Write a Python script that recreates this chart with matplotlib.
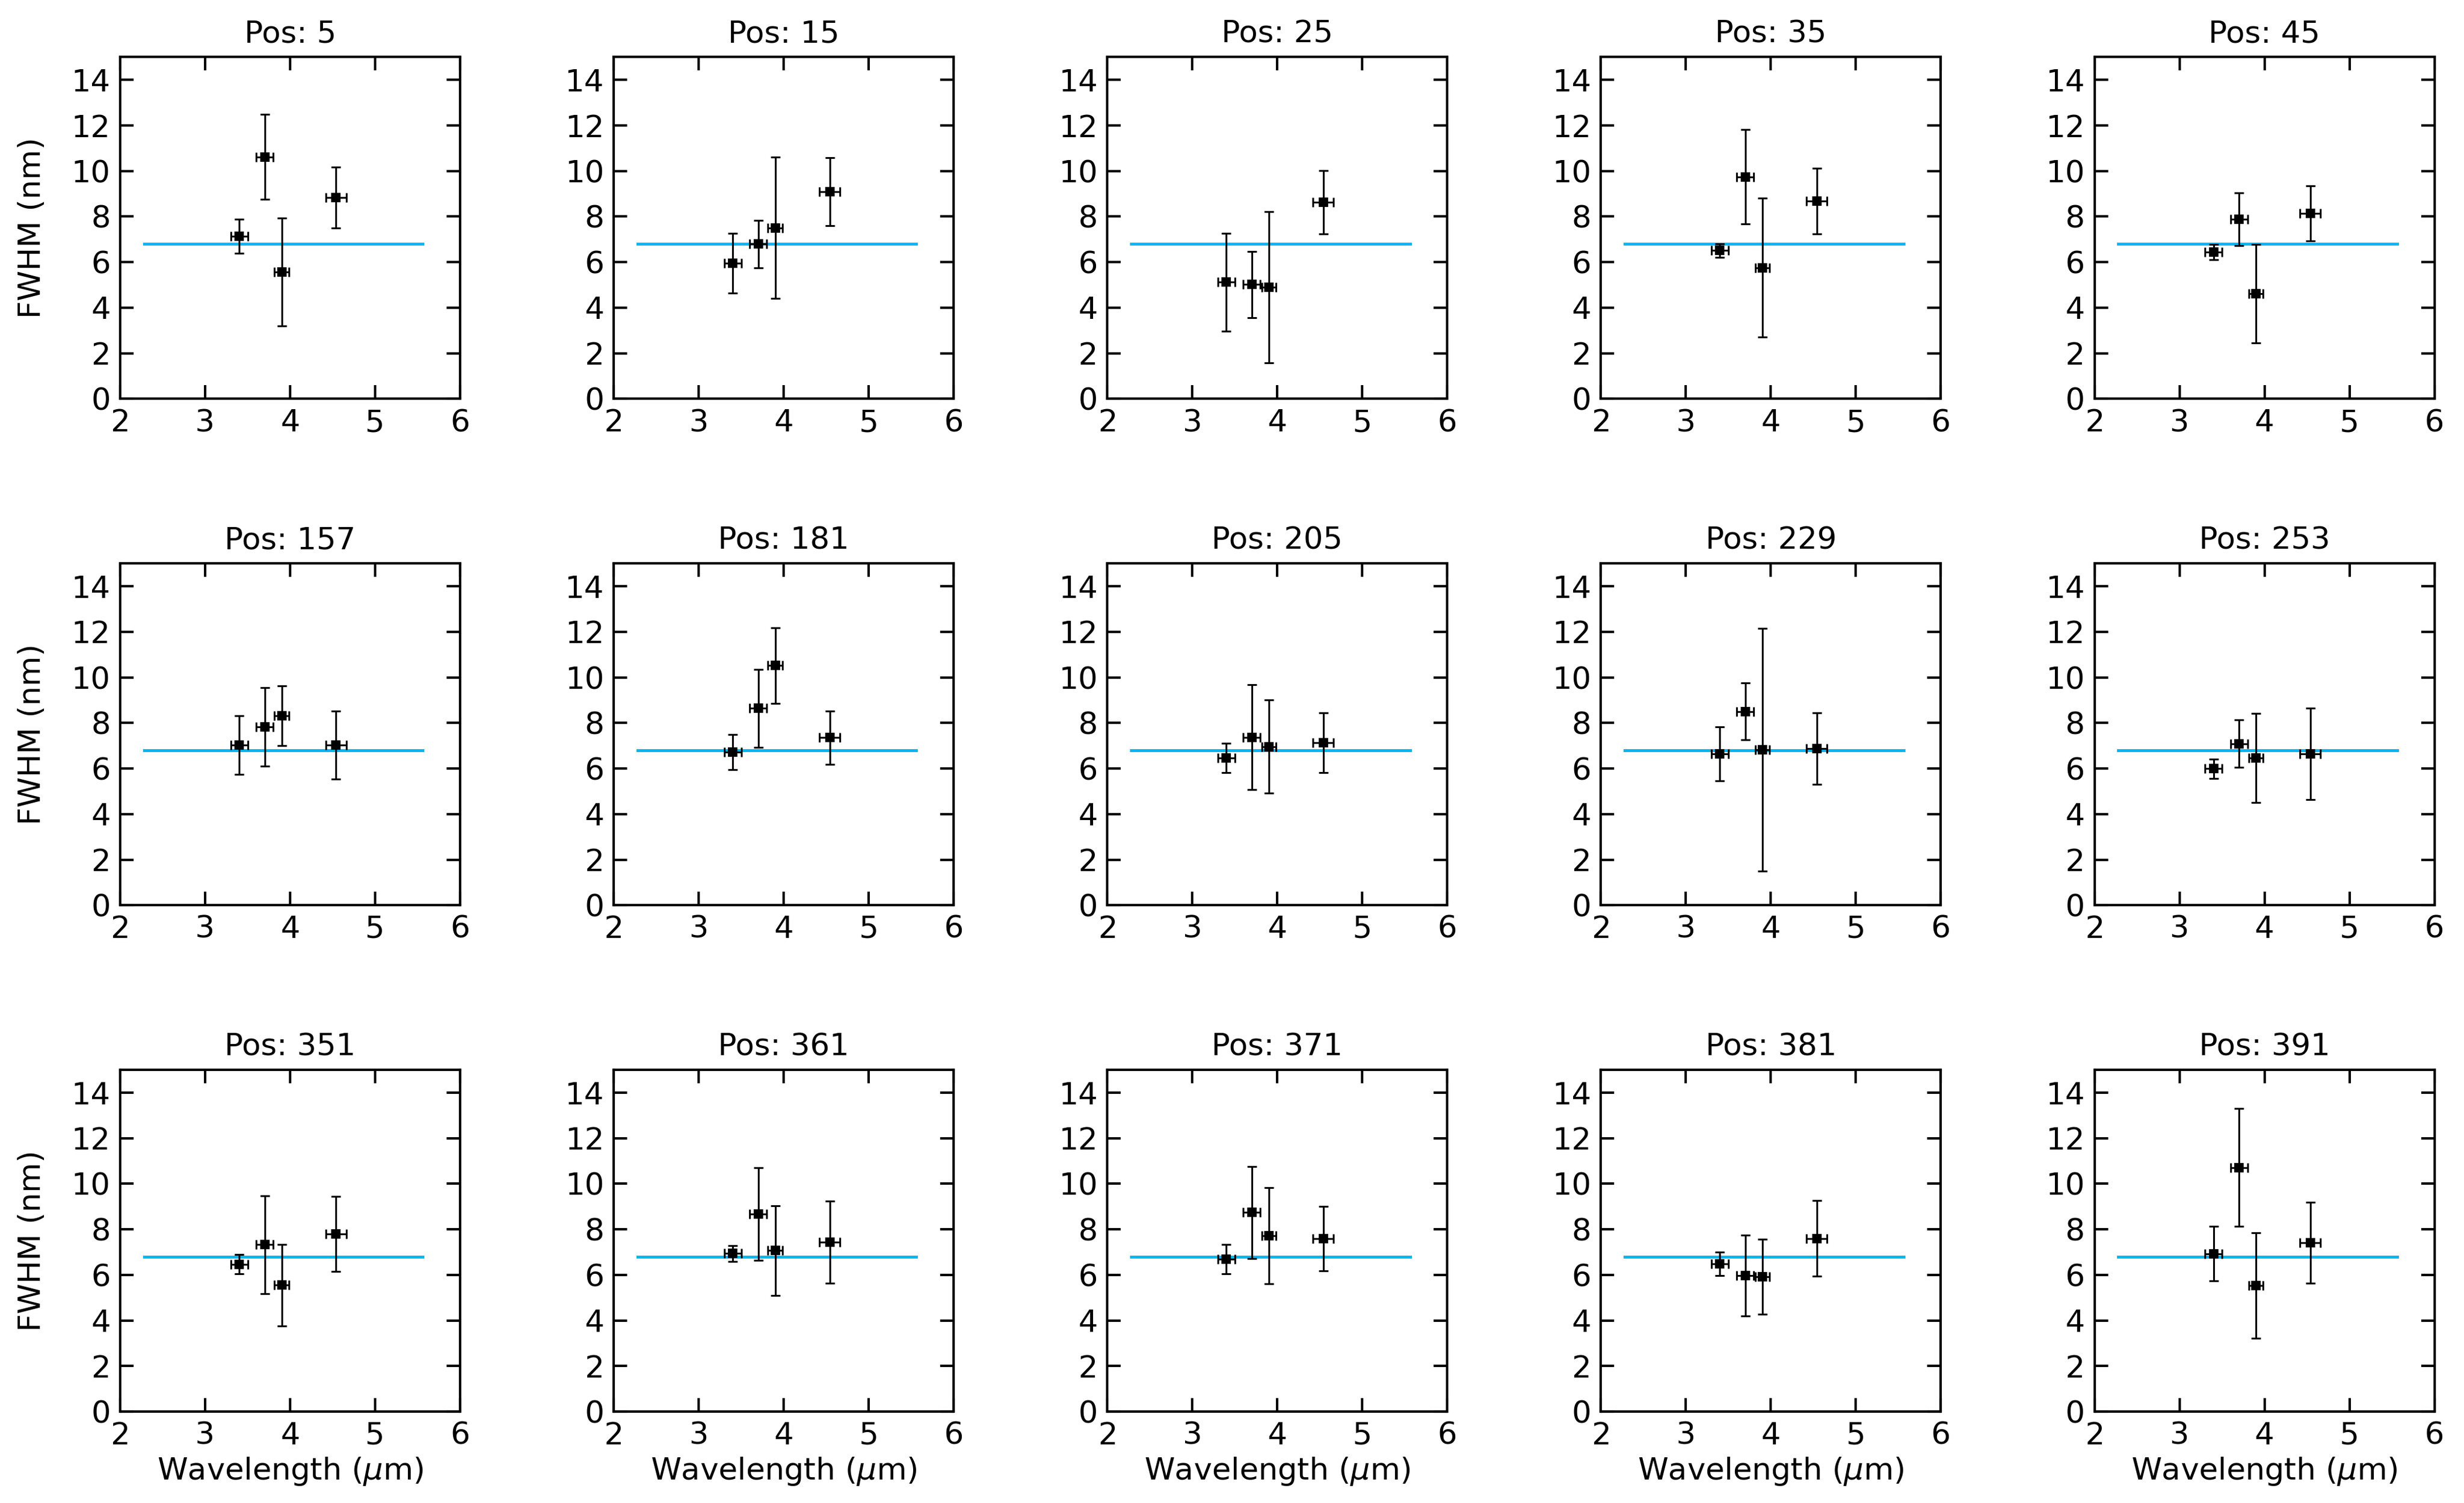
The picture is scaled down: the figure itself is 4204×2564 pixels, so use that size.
import matplotlib
matplotlib.use("Agg")
import matplotlib.pyplot as plt

# ---- data ----
positions = [5, 15, 25, 35, 45, 157, 181, 205, 229, 253, 351, 361, 371, 381, 391]
wavelengths = [3.40, 3.70, 3.90, 4.54]
wavelength_err = [0.10, 0.10, 0.085, 0.12]

fwhm_row1 = [[7.13, 10.62, 5.56, 8.84],
             [5.95, 6.79, 7.51, 9.10],
             [5.12, 5.02, 4.89, 8.63],
             [6.51, 9.74, 5.75, 8.68],
             [6.44, 7.88, 4.62, 8.14]]
fwhm_err_row1 = [[0.75, 1.86, 2.37, 1.34],
                 [1.31, 1.05, 3.10, 1.49],
                 [2.15, 1.45, 3.32, 1.38],
                 [0.29, 2.07, 3.05, 1.44],
                 [0.34, 1.15, 2.16, 1.22]]

fwhm_row2 = [[7.03, 7.83, 8.32, 7.03],
             [6.72, 8.64, 10.53, 7.36],
             [6.47, 7.37, 6.96, 7.13],
             [6.64, 8.50, 6.83, 6.87],
             [5.99, 7.09, 6.47, 6.64]]
fwhm_err_row2 = [[1.28, 1.73, 1.31, 1.49],
                 [0.77, 1.70, 1.66, 1.17],
                 [0.65, 2.30, 2.04, 1.32],
                 [1.19, 1.25, 5.33, 1.57],
                 [0.43, 1.04, 1.95, 2.00]]

fwhm_row3 = [[6.47, 7.33, 5.55, 7.80],
             [6.94, 8.67, 7.07, 7.45],
             [6.69, 8.74, 7.72, 7.59],
             [6.48, 5.97, 5.93, 7.60],
             [6.93, 10.72, 5.53, 7.42]]
fwhm_err_row3 = [[0.43, 2.15, 1.78, 1.64],
                 [0.34, 2.04, 1.96, 1.80],
                 [0.65, 2.03, 2.12, 1.42],
                 [0.51, 1.77, 1.65, 1.66],
                 [1.20, 2.58, 2.32, 1.78]]

mean_fwhm = 6.8
mean_line_x = [2.28, 5.56]

x_ticks = [2, 3, 4, 5, 6]
y_ticks = [0, 2, 4, 6, 8, 10, 12, 14]

# ---- plot ----
FS = 12.6
plt.rcParams['font.family'] = ['DejaVu Sans']
plt.rcParams['font.size'] = FS

fig, axes = plt.subplots(3, 5, figsize=(4204 / 300, 2564 / 300), dpi=300)
fig.subplots_adjust(left=0.0488, right=0.988, bottom=0.0608, top=0.962,
                    wspace=0.452, hspace=0.482)

fwhm_all = fwhm_row1 + fwhm_row2 + fwhm_row3
fwhm_err_all = fwhm_err_row1 + fwhm_err_row2 + fwhm_err_row3

for i, ax in enumerate(axes.flat):
    r, c = divmod(i, 5)
    ax.plot(mean_line_x, [mean_fwhm, mean_fwhm], color='#0ab6f0', lw=1.2, zorder=1)
    ax.errorbar(wavelengths, fwhm_all[i], yerr=fwhm_err_all[i], xerr=wavelength_err,
                fmt='s', color='black', ms=3, elinewidth=0.75, capsize=2,
                capthick=0.75, zorder=2)
    ax.set_xlim(2, 6)
    ax.set_ylim(0, 15)
    ax.set_xticks(x_ticks)
    ax.set_yticks(y_ticks)
    ax.tick_params(direction='in', top=True, right=True, length=5.5, width=1.0,
                   labelsize=FS, pad=4)
    for sp in ax.spines.values():
        sp.set_linewidth(1.0)
    ax.set_title(f"Pos: {positions[i]}", fontsize=FS)
    if c == 0:
        ax.set_ylabel("FWHM (nm)", fontsize=FS, labelpad=10)
    if r == 2:
        ax.set_xlabel(r"Wavelength ($\mu$m)", fontsize=FS, labelpad=2)

fig.savefig("out.png", dpi=300, facecolor='white')
